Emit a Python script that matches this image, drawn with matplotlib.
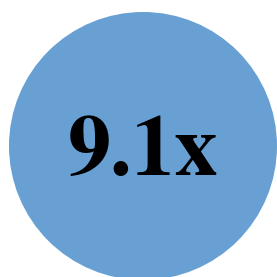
import matplotlib
matplotlib.use("Agg")
import matplotlib.pyplot as plt
from matplotlib.patches import Circle

label = "9.1x"
circle_color = "#68a0d4"

fig = plt.figure(figsize=(2.77, 2.77), dpi=100)
ax = fig.add_axes([0, 0, 1, 1])
ax.set_xlim(0, 277)
ax.set_ylim(277, 0)
ax.set_aspect("equal")
ax.axis("off")

ax.add_patch(Circle((143, 146), 134, color=circle_color, lw=0))
ax.text(143, 175, label, ha="center", va="baseline", fontsize=62,
        fontweight="bold", family=["TeX Gyre Termes", "Liberation Serif"], color="black")

fig.savefig("out.png", dpi=100)
